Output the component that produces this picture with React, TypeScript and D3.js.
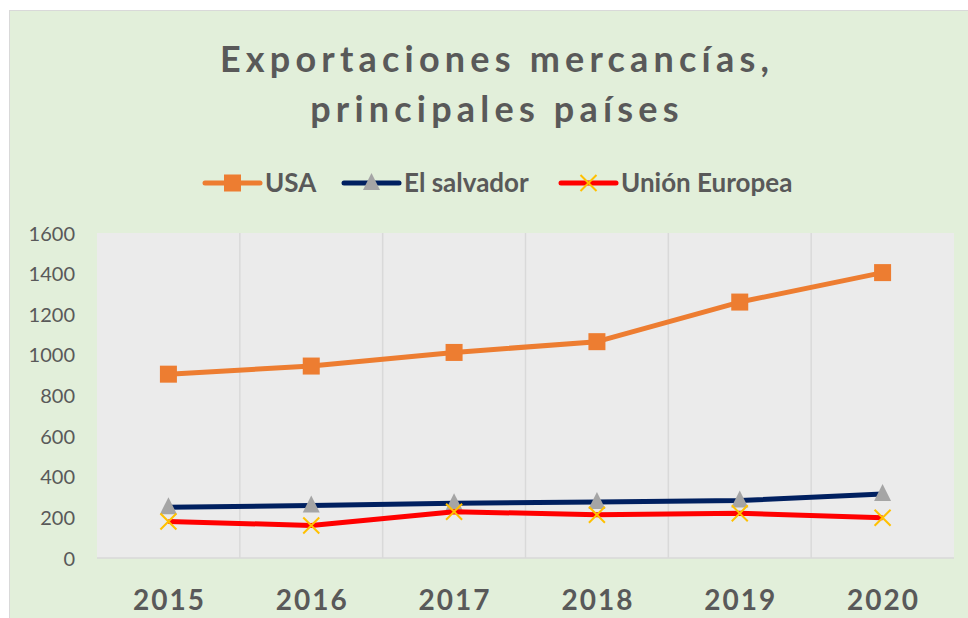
import React from 'react';
import * as d3 from 'd3';

const years = ['2015', '2016', '2017', '2018', '2019', '2020'];
const usa = [905, 945, 1012, 1065, 1260, 1405];
const elSalvador = [250, 258, 270, 276, 283, 315];
const unionEuropea = [180, 160, 228, 213, 220, 198];
const yTicks = [0, 200, 400, 600, 800, 1000, 1200, 1400, 1600];

const W = 968;
const H = 618;
const margin = { top: 233, right: 14, bottom: 60, left: 97 };
const textColor = '#595959';
const font = 'Lato, "Open Sans", sans-serif';

const App = () => {
  const x = d3
    .scaleBand()
    .domain(years)
    .range([margin.left, W - margin.right]);
  const y = d3
    .scaleLinear()
    .domain([0, 1600])
    .range([H - margin.bottom, margin.top]);

  const cx = (i: number) => (x(years[i]) as number) + x.bandwidth() / 2;
  const line = d3
    .line<number>()
    .x((d, i) => cx(i))
    .y((d) => y(d));

  // legend entries, x0 = where the sample line starts
  const legend = [
    { label: 'USA', color: '#ed7d31', marker: 'square', x0: 205 },
    { label: 'El salvador', color: '#002060', marker: 'triangle', x0: 344 },
    { label: 'Unión Europea', color: '#ff0000', marker: 'x', x0: 561 },
  ];

  const marker = (type: string, mx: number, my: number, key: string) => {
    if (type === 'square') {
      return <rect key={key} x={mx - 8.5} y={my - 8.5} width={17} height={17} fill="#ed7d31" />;
    }
    if (type === 'triangle') {
      return (
        <path
          key={key}
          d={`M${mx},${my - 10}L${mx + 8.5},${my + 7}L${mx - 8.5},${my + 7}Z`}
          fill="#a5a5a5"
        />
      );
    }
    return (
      <path
        key={key}
        d={`M${mx - 8},${my - 8}L${mx + 8},${my + 8}M${mx + 8},${my - 8}L${mx - 8},${my + 8}`}
        stroke="#ffc000"
        strokeWidth={2}
      />
    );
  };

  const series = [
    { data: usa, color: '#ed7d31', marker: 'square' },
    { data: elSalvador, color: '#002060', marker: 'triangle' },
    { data: unionEuropea, color: '#ff0000', marker: 'x' },
  ];

  return (
    <svg
      width={W}
      height={H}
      style={{ position: 'absolute', left: 0, top: 0 }}
    >
      <rect x={0} y={0} width={W} height={H} fill="#ffffff" />
      <rect x={9.5} y={10.5} width={W + 10} height={H + 10} fill="#e2efda" stroke="#d9d9d9" />

      {/* title */}
      <text
        x={497}
        y={72}
        textAnchor="middle"
        fontFamily={font}
        fontWeight="bold"
        fontSize={36}
        letterSpacing={5.2}
        fill={textColor}
      >
        Exportaciones mercancías,
      </text>
      <text
        x={497}
        y={122}
        textAnchor="middle"
        fontFamily={font}
        fontWeight="bold"
        fontSize={36}
        letterSpacing={5.2}
        fill={textColor}
      >
        principales países
      </text>

      {/* legend */}
      {legend.map((l) => (
        <g key={l.label}>
          <line x1={l.x0} x2={l.x0 + 55} y1={183} y2={183} stroke={l.color} strokeWidth={5} strokeLinecap="round" />
          {marker(l.marker, l.x0 + 27.5, 183, l.label)}
          <text
            x={l.x0 + 60}
            y={192}
            fontFamily={font}
            fontWeight="bold"
            fontSize={26}
            fill={textColor}
          >
            {l.label}
          </text>
        </g>
      ))}

      {/* plot area */}
      <rect
        x={margin.left}
        y={margin.top}
        width={W - margin.left - margin.right}
        height={H - margin.top - margin.bottom}
        fill="#ebebeb"
      />
      {years.slice(1).map((yr) => (
        <line
          key={yr}
          x1={x(yr)}
          x2={x(yr)}
          y1={margin.top}
          y2={H - margin.bottom}
          stroke="#d9d9d9"
          strokeWidth={1.5}
        />
      ))}
      <line
        x1={margin.left}
        x2={W - margin.right}
        y1={H - margin.bottom}
        y2={H - margin.bottom}
        stroke="#d9d9d9"
        strokeWidth={1.5}
      />

      {/* y axis labels */}
      {yTicks.map((t) => (
        <text
          key={t}
          x={75}
          y={y(t) + 7.5}
          textAnchor="end"
          fontFamily={font}
          fontSize={20}
          fill={textColor}
        >
          {t}
        </text>
      ))}

      {/* x axis labels */}
      {years.map((yr, i) => (
        <text
          key={yr}
          x={cx(i) + 1}
          y={610}
          textAnchor="middle"
          fontFamily={font}
          fontWeight="bold"
          fontSize={28}
          letterSpacing={2}
          fill={textColor}
        >
          {yr}
        </text>
      ))}

      {/* series */}
      {series.map((s) => (
        <g key={s.color}>
          <path d={line(s.data) as string} fill="none" stroke={s.color} strokeWidth={5} strokeLinejoin="round" />
          {s.data.map((v, i) => marker(s.marker, cx(i), y(v), `${s.color}-${i}`))}
        </g>
      ))}
    </svg>
  );
};

export default App;
